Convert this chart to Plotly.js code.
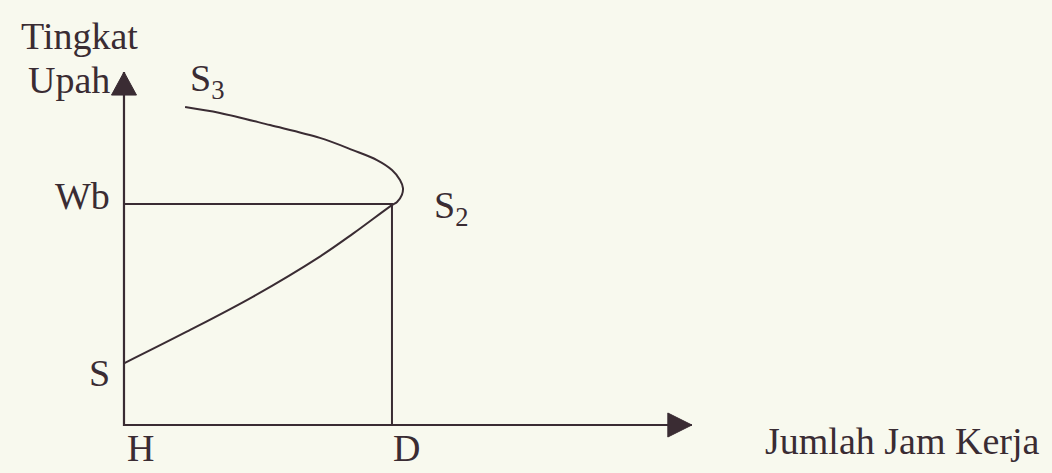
<!DOCTYPE html>
<html>
<head>
<meta charset="utf-8">
<script src="https://cdn.plot.ly/plotly-3.0.1.min.js"></script>
<style>
  html, body { margin: 0; padding: 0; background: #f8f9ee; }
  #chart { width: 1052px; height: 473px; }
</style>
</head>
<body>
<div id="chart"></div>
<script>
// Backward-bending labour supply curve (S -> S2 -> S3)
var hoursWorked = [0, 2.34, 4.82, 7.31, 8.56, 10.0, 10.19, 10.37, 10.41, 10.30, 10.0, 9.44, 8.54, 7.31, 5.45, 3.58, 2.28];
var wageLevel   = [2.79, 4.22, 5.81, 7.62, 8.67, 9.95, 10.09, 10.41, 10.72, 11.09, 11.54, 11.99, 12.44, 12.99, 13.57, 14.12, 14.39];

var Wb = 10;         // wage level Wb
var D = 10;          // working hours at Wb
var S0 = wageLevel[0];
var xAxisEnd = 21.19;
var yAxisEnd = 15.97;

var axisLabels = { y1: 'Tingkat', y2: 'Upah', x: 'Jumlah Jam Kerja' };
var pointLabels = { wb: 'Wb', s: 'S', s2: 'S<sub>2</sub>', s3: 'S<sub>3</sub>', h: 'H', d: 'D' };

var ink = '#3a2c33';
var font = { family: '"Liberation Serif", "Times New Roman", serif', size: 38, color: ink };

var traces = [
  { // axes
    x: [xAxisEnd, 0, 0], y: [0, 0, yAxisEnd],
    mode: 'lines', line: { color: ink, width: 2.2 },
    hoverinfo: 'skip', showlegend: false
  },
  { // Wb and D guide lines
    x: [0, D, D], y: [Wb, Wb, 0],
    mode: 'lines', line: { color: ink, width: 2 },
    hoverinfo: 'skip', showlegend: false
  },
  { // supply curve
    x: hoursWorked, y: wageLevel,
    mode: 'lines', line: { color: ink, width: 2, shape: 'spline', smoothing: 1 },
    hoverinfo: 'skip', showlegend: false
  }
];

function txt(text, x, y, xanchor, xshift, yshift) {
  return { text: text, x: x, y: y, xref: 'x', yref: 'y', showarrow: false,
           xanchor: xanchor, yanchor: 'middle', xshift: xshift, yshift: yshift, font: font };
}

var annotations = [
  txt(axisLabels.y1, 0, yAxisEnd, 'center', -44, 36),
  txt(axisLabels.y2, 0, yAxisEnd, 'right', -12, -8),
  txt(axisLabels.x, xAxisEnd, 0, 'center', 211, -16),
  txt(pointLabels.wb, 0, Wb, 'right', -12, 8),
  txt(pointLabels.s, 0, S0, 'right', -12, -10),
  txt(pointLabels.h, 0, 0, 'center', 17, -23),
  txt(pointLabels.d, D, 0, 'center', 15, -23),
  txt(pointLabels.s2, D, Wb, 'left', 40, -4),
  txt(pointLabels.s3, hoursWorked[hoursWorked.length - 1], wageLevel[wageLevel.length - 1], 'left', 3, 26)
];

// filled arrowheads at the axis ends (pixel-sized, anchored at the axis ends)
var shapes = [
  { type: 'path', xref: 'x', yref: 'y', xsizemode: 'pixel', ysizemode: 'pixel',
    xanchor: 0, yanchor: yAxisEnd, path: 'M0,0 L-12.5,-23 L12.5,-23 Z',
    fillcolor: ink, line: { color: ink, width: 1 } },
  { type: 'path', xref: 'x', yref: 'y', xsizemode: 'pixel', ysizemode: 'pixel',
    xanchor: xAxisEnd, yanchor: 0, path: 'M0,0 L-24,12 L-24,-12 Z',
    fillcolor: ink, line: { color: ink, width: 1 } }
];

var layout = {
  width: 1052, height: 473,
  margin: { l: 0, r: 0, t: 0, b: 0 },
  paper_bgcolor: '#f8f9ee', plot_bgcolor: '#f8f9ee',
  xaxis: { range: [-4.627, 34.63], visible: false, fixedrange: true },
  yaxis: { range: [-2.172, 19.23], visible: false, fixedrange: true },
  annotations: annotations,
  shapes: shapes,
  showlegend: false
};

Plotly.newPlot('chart', traces, layout, { staticPlot: true, displayModeBar: false });
</script>
</body>
</html>
